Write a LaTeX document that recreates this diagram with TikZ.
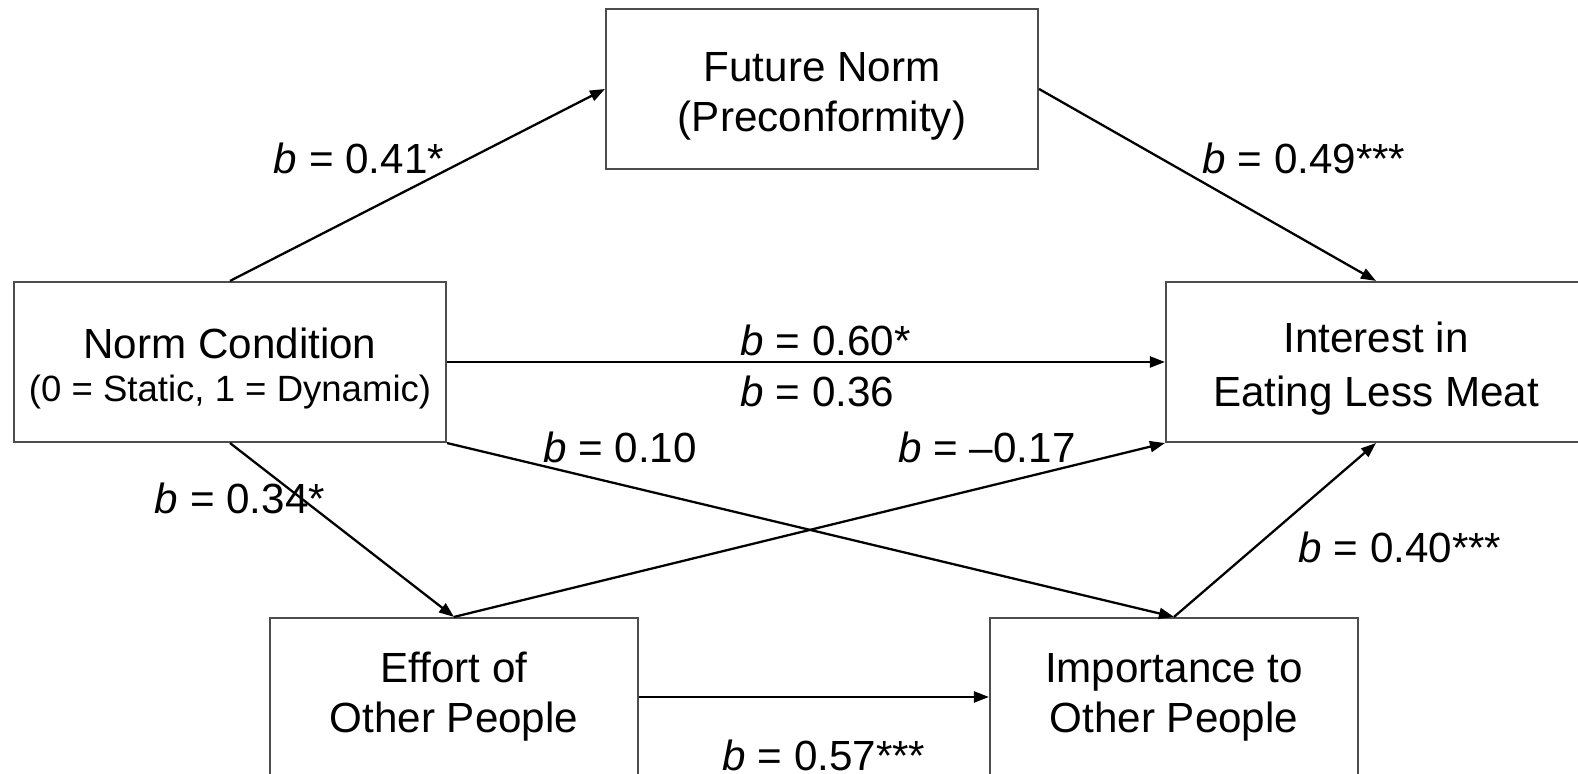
\documentclass[tikz,border=0pt]{standalone}
\usepackage{fontspec}
\setmainfont{Liberation Sans}
\usepackage{tikz}
\usetikzlibrary{arrows.meta}

\newcommand{\toprule}{\rule{0pt}{12.5pt}}

\tikzset{
  varbox/.style={draw=black!70, line width=0.6pt, align=center, inner sep=0pt,
    font=\fontsize{12}{14.2}\selectfont},
  path/.style={draw, line width=0.65pt, -{Triangle[length=0.15cm,width=0.11cm]}},
  coef/.style={font=\fontsize{12}{14.2}\selectfont, inner sep=0pt}
}

\begin{document}
\begin{tikzpicture}
            \useasboundingbox (0,0) rectangle (15.78,7.74);
            % Variables
            \node[varbox, minimum width=4.32cm, minimum height=1.60cm] (future) at (8.22,6.85) {\toprule Future Norm\\(Preconformity)};
            \node[varbox, minimum width=4.32cm, minimum height=1.60cm] (norm) at (2.30,4.12) {\toprule Norm Condition\\[-2pt]{\fontsize{10.4}{12.5}\selectfont (0 = Static, 1 = Dynamic)}};
            \node[varbox, minimum width=4.20cm, minimum height=1.60cm] (interest) at (13.76,4.12) {\toprule Interest in\\[1pt]Eating Less Meat};
            \node[varbox, minimum width=3.68cm, minimum height=1.58cm] (effort) at (4.54,0.77) {Effort of\\Other People};
            \node[varbox, minimum width=3.68cm, minimum height=1.58cm] (importance) at (11.74,0.77) {Importance to\\Other People};
            % Paths
            \draw[path] (norm.north) -- (future.west);
            \draw[path] (future.east) -- (interest.north);
            \draw[path] (norm.east) -- (interest.west);
            \draw[path] (norm.south) -- (effort.north);
            \draw[path] (norm.south east) -- (importance.north);
            \draw[path] (effort.north) -- (interest.south west);
            \draw[path] (importance.north) -- (interest.south);
            \draw[path] (effort.east) -- (importance.west);
            % Coefficients
            \node[coef] (c41) at (3.59,6.16) {\textit{b} = 0.41*};
            \node[coef] (c49) at (13.04,6.16) {\textit{b} = 0.49***};
            \node[coef, anchor=west] (c60) at (7.40,4.34) {\textit{b} = 0.60*};
            \node[coef, anchor=west] (c36) at (7.40,3.83) {\textit{b} = 0.36};
            \node[coef] (c10) at (6.20,3.27) {\textit{b} = 0.10};
            \node[coef] (c17) at (9.87,3.27) {\textit{b} = \textendash0.17};
            \node[coef] (c34) at (2.40,2.76) {\textit{b} = 0.34*};
            \node[coef] (c40) at (14.00,2.27) {\textit{b} = 0.40***};
            \node[coef] (c57) at (8.24,0.19) {\textit{b} = 0.57***};
\end{tikzpicture}
\end{document}
